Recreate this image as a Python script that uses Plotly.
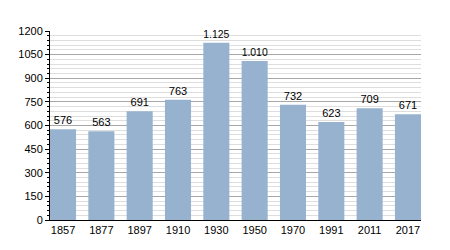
import plotly.graph_objects as go

years = ["1857", "1877", "1897", "1910", "1930", "1950", "1970", "1991", "2011", "2017"]
population = [576, 563, 691, 763, 1125, 1010, 732, 623, 709, 671]
labels = ["576", "563", "691", "763", "1.125", "1.010", "732", "623", "709", "671"]
y_ticks = [0, 150, 300, 450, 600, 750, 900, 1050, 1200]

fig = go.Figure(go.Bar(
    x=years, y=population, text=labels, textposition="outside",
    marker=dict(color="#97b2cf", line=dict(width=0)),
    textfont=dict(size=11, color="black", family="Liberation Sans, Arial, sans-serif"),
    cliponaxis=False,
))

fig.update_layout(
    width=450, height=250,
    margin=dict(l=50, r=29, t=31, b=30),
    paper_bgcolor="white", plot_bgcolor="white",
    bargap=0.32, showlegend=False,
    font=dict(family="Liberation Sans, Arial, sans-serif", size=11, color="black"),
)
fig.update_yaxes(
    range=[0, 1200], tickvals=y_ticks, ticktext=[str(v) for v in y_ticks],
    showgrid=True, gridcolor="#a8a8a8", gridwidth=1,
    minor=dict(dtick=30, showgrid=True, gridcolor="#dedede", gridwidth=1,
               ticks="outside", ticklen=2, tickcolor="black"),
    showline=True, linecolor="black", linewidth=1,
    ticks="outside", ticklen=4, tickcolor="black",
    zeroline=False, fixedrange=True,
)
fig.update_xaxes(
    range=[-0.34, 9.34],
    showline=True, linecolor="black", linewidth=1,
    showgrid=False, ticks="", fixedrange=True,
)

fig.write_html("out.html")
